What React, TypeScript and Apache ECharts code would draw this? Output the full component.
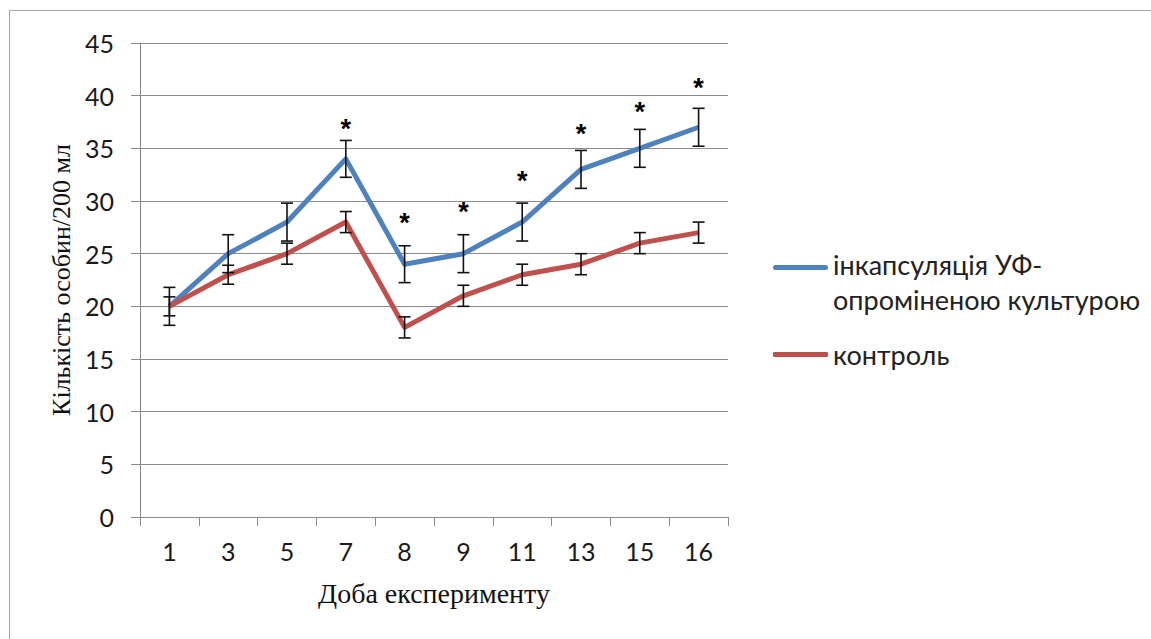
import React, { useEffect, useRef } from "react";
import * as echarts from "echarts";

const categories = ["1", "3", "5", "7", "8", "9", "11", "13", "15", "16"];
const treatedName = "інкапсуляція УФ-\nопроміненою культурою";
const controlName = "контроль";
const treated = [20, 25, 28, 34, 24, 25, 28, 33, 35, 37];
const control = [20, 23, 25, 28, 18, 21, 23, 24, 26, 27];
const treatedErr = [1.8, 1.8, 1.8, 1.75, 1.75, 1.8, 1.8, 1.8, 1.8, 1.8];
const controlErr = [0.9, 0.9, 1, 1, 1, 1, 1, 1, 1, 1];
const starCategories = ["7", "8", "9", "11", "13", "15", "16"];
const starValues = [37.4, 28.5, 29.5, 32.5, 36.9, 39, 41.3];
const yTicks = { min: 0, max: 45, interval: 5 };

const BLUE = "#4F81BD";
const RED = "#C0504D";
const GRID = "#8a8a8a";

function errorRender(params: any, api: any) {
  const x = api.value(0);
  const lo = api.coord([x, api.value(1)]);
  const hi = api.coord([x, api.value(2)]);
  const cap = 6;
  const style = { stroke: "#111", lineWidth: 1.6 };
  return {
    type: "group",
    children: [
      { type: "line", shape: { x1: lo[0], y1: lo[1], x2: hi[0], y2: hi[1] }, style },
      { type: "line", shape: { x1: lo[0] - cap, y1: lo[1], x2: lo[0] + cap, y2: lo[1] }, style },
      { type: "line", shape: { x1: hi[0] - cap, y1: hi[1], x2: hi[0] + cap, y2: hi[1] }, style },
    ],
  };
}

function starRender(params: any, api: any) {
  const p = api.coord([api.value(0), api.value(1)]);
  return {
    type: "text",
    x: p[0],
    y: p[1] + 6,
    style: {
      text: "*",
      fill: "#000",
      font: "bold 27px 'Liberation Sans', Arial, sans-serif",
      align: "center",
      verticalAlign: "middle",
    },
  };
}

export default function App() {
  const ref = useRef<HTMLDivElement>(null);
  useEffect(() => {
    if (!ref.current) return;
    const chart = echarts.init(ref.current, undefined, { renderer: "svg" });
    const treatedBars = categories.map((c, i) => [i, treated[i] - treatedErr[i], treated[i] + treatedErr[i]]);
    const controlBars = categories.map((c, i) => [i, control[i] - controlErr[i], control[i] + controlErr[i]]);
    const stars = starCategories.map((c, i) => [categories.indexOf(c), starValues[i]]);
    const legendText = { fontFamily: "Lato", fontSize: 27, color: "#222", lineHeight: 35 };
    chart.setOption({
      animation: false,
      backgroundColor: "#ffffff",
      graphic: [
        {
          type: "rect",
          shape: { x: 9.5, y: 10.5, width: 1300, height: 800 },
          style: { fill: "none", stroke: "#a6a6a6", lineWidth: 1 },
          silent: true,
        },
      ],
      grid: { left: 140, right: 423, top: 43, bottom: 122, containLabel: false },
      legend: [
        {
          data: [{ name: treatedName }],
          left: 773,
          top: 247,
          padding: 0,
          icon: "path://M2.5,0H52.5A2.5,2.5,0,0,1,52.5,5H2.5A2.5,2.5,0,0,1,2.5,0Z M0,34H0.05V33.95H0Z",
          symbolKeepAspect: false,
          itemWidth: 55,
          itemHeight: 34,
          textStyle: legendText,
          selectedMode: false,
        },
        {
          data: [{ name: controlName }],
          left: 773,
          top: 337,
          padding: 0,
          icon: "roundRect",
          itemWidth: 55,
          itemHeight: 5,
          textStyle: legendText,
          selectedMode: false,
        },
      ],
      xAxis: {
        type: "category",
        data: categories,
        boundaryGap: true,
        name: "Доба експерименту",
        nameLocation: "middle",
        nameGap: 62,
        nameTextStyle: { fontFamily: "Liberation Serif", fontSize: 28, color: "#111" },
        axisLine: { show: true, lineStyle: { color: GRID, width: 1 } },
        axisTick: { show: true, length: 9, alignWithLabel: false, lineStyle: { color: GRID } },
        axisLabel: { margin: 21, fontFamily: "Lato", fontSize: 25, color: "#1a1a1a" },
        splitLine: { show: false },
      },
      yAxis: {
        type: "value",
        min: yTicks.min,
        max: yTicks.max,
        interval: yTicks.interval,
        name: "Кількість особин/200 мл",
        nameLocation: "middle",
        nameGap: 65,
        nameRotate: 90,
        nameTextStyle: { fontFamily: "Liberation Serif", fontSize: 26, color: "#111" },
        axisLine: { show: true, lineStyle: { color: GRID, width: 1 } },
        axisTick: { show: true, length: 9, lineStyle: { color: GRID } },
        axisLabel: { margin: 26, fontFamily: "Lato", fontSize: 25, color: "#1a1a1a" },
        splitLine: { show: true, lineStyle: { color: GRID, width: 1 } },
      },
      series: [
        {
          name: treatedName,
          type: "line",
          data: treated,
          color: BLUE,
          symbol: "none",
          lineStyle: { width: 5, color: BLUE, join: "round" },
          z: 2,
        },
        {
          name: controlName,
          type: "line",
          data: control,
          color: RED,
          symbol: "none",
          lineStyle: { width: 5, color: RED, join: "round" },
          z: 2,
        },
        {
          type: "custom",
          renderItem: errorRender,
          data: treatedBars,
          encode: { x: 0, y: [1, 2] },
          z: 5,
          silent: true,
        },
        {
          type: "custom",
          renderItem: errorRender,
          data: controlBars,
          encode: { x: 0, y: [1, 2] },
          z: 5,
          silent: true,
        },
        {
          type: "custom",
          renderItem: starRender,
          data: stars,
          encode: { x: 0, y: 1 },
          z: 6,
          silent: true,
        },
      ],
    });
    return () => chart.dispose();
  }, []);
  return (
    <div
      ref={ref}
      style={{ position: "fixed", left: 0, top: 0, width: 1151, height: 639 }}
    />
  );
}
